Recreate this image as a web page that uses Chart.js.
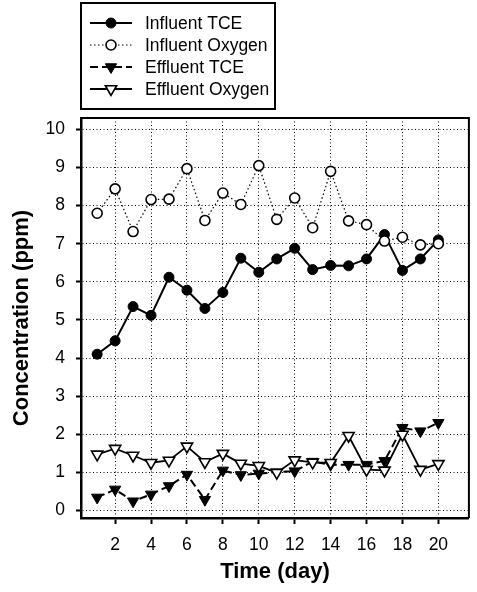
<!DOCTYPE html>
<html>
<head>
<meta charset="utf-8">
<title>Concentration vs Time</title>
<script src="https://cdn.jsdelivr.net/npm/chart.js@4.4.0/dist/chart.umd.min.js"></script>
<style>
    html, body { margin: 0; padding: 0; background: #fff; }
    #chart { display: block; }
</style>
</head>
<body>
<canvas id="chart" width="477" height="592"></canvas>
<script>
// Data
const days = [1, 2, 3, 4, 5, 6, 7, 8, 9, 10, 11, 12, 13, 14, 15, 16, 17, 18, 19, 20];
const influentTCE = [4.1, 4.45, 5.35, 5.12, 6.12, 5.78, 5.3, 5.72, 6.62, 6.25, 6.6, 6.88, 6.32, 6.43, 6.42, 6.6, 7.24, 6.3, 6.6, 7.1];
const influentOxygen = [7.8, 8.44, 7.32, 8.16, 8.17, 8.97, 7.61, 8.33, 8.03, 9.05, 7.64, 8.2, 7.42, 8.9, 7.6, 7.5, 7.07, 7.17, 6.97, 7.0];
const effluentTCE = [0.34, 0.55, 0.24, 0.42, 0.64, 0.94, 0.28, 1.05, 0.93, 0.97, 1.0, 1.03, 1.28, 1.2, 1.2, 1.2, 1.3, 2.17, 2.08, 2.3];
const effluentOxygen = [1.47, 1.62, 1.44, 1.25, 1.31, 1.68, 1.27, 1.49, 1.23, 1.17, 0.99, 1.32, 1.26, 1.25, 1.96, 1.07, 1.05, 1.99, 1.07, 1.22];
const xTicks = [2, 4, 6, 8, 10, 12, 14, 16, 18, 20];
const yTicks = [0, 1, 2, 3, 4, 5, 6, 7, 8, 9, 10];

const FONT = "'Liberation Sans', Arial, Helvetica, sans-serif";

function points(values) {
    return days.map((d, i) => ({ x: d, y: values[i] }));
}

const series = [
    {
        label: 'Influent TCE', data: points(influentTCE), order: 2,
        borderColor: '#000', borderWidth: 2, borderDash: [],
        pointStyle: 'circle', pointRadius: 5, pointRotation: 0,
        pointBackgroundColor: '#000', pointBorderColor: '#000', pointBorderWidth: 1
    },
    {
        label: 'Influent Oxygen', data: points(influentOxygen), order: 0,
        borderColor: '#000', borderWidth: 1.2, borderDash: [1.5, 2.5],
        pointStyle: 'circle', pointRadius: 5, pointRotation: 0,
        pointBackgroundColor: '#fff', pointBorderColor: '#000', pointBorderWidth: 1.6
    },
    {
        label: 'Effluent TCE', data: points(effluentTCE), order: 3,
        borderColor: '#000', borderWidth: 2, borderDash: [8, 4],
        pointStyle: 'triangle', pointRadius: 6.5, pointRotation: 180,
        pointBackgroundColor: '#000', pointBorderColor: '#000', pointBorderWidth: 1
    },
    {
        label: 'Effluent Oxygen', data: points(effluentOxygen), order: 1,
        borderColor: '#000', borderWidth: 1.8, borderDash: [],
        pointStyle: 'triangle', pointRadius: 6.5, pointRotation: 180,
        pointBackgroundColor: '#fff', pointBorderColor: '#000', pointBorderWidth: 1.6
    }
];

// Boxed legend at the top left, with line + marker samples
const boxLegend = {
    id: 'boxLegend',
    afterDraw(chart) {
        const ctx = chart.ctx;
        const rows = [23, 45, 67, 89];
        ctx.save();
        ctx.strokeStyle = '#000';
        ctx.lineWidth = 2;
        ctx.strokeRect(81, 3, 194, 106);
        ctx.font = '17.5px ' + FONT;
        ctx.textBaseline = 'middle';
        ctx.fillStyle = '#000';
        series.forEach((s, i) => {
            const y = rows[i];
            ctx.save();
            ctx.lineWidth = s.borderWidth;
            ctx.setLineDash(s.borderDash);
            ctx.beginPath();
            ctx.moveTo(90, y);
            ctx.lineTo(132, y);
            ctx.stroke();
            ctx.restore();
            ctx.save();
            ctx.fillStyle = s.pointBackgroundColor;
            ctx.strokeStyle = s.pointBorderColor;
            ctx.lineWidth = s.pointBorderWidth;
            Chart.helpers.drawPoint(ctx, {
                pointStyle: s.pointStyle, rotation: s.pointRotation,
                radius: s.pointRadius, borderWidth: s.pointBorderWidth
            }, 111, y);
            ctx.restore();
            ctx.fillText(s.label, 145, y + 1);
        });
        ctx.restore();
    }
};

// Top and right edges of the plot frame
const frame = {
    id: 'frame',
    afterDraw(chart) {
        const a = chart.chartArea;
        const ctx = chart.ctx;
        ctx.save();
        ctx.strokeStyle = '#000';
        ctx.lineWidth = 2;
        ctx.beginPath();
        ctx.moveTo(a.left, a.top);
        ctx.lineTo(a.right, a.top);
        ctx.lineTo(a.right, a.bottom);
        ctx.stroke();
        ctx.restore();
    }
};

new Chart(document.getElementById('chart'), {
    type: 'line',
    data: { datasets: series.map(s => Object.assign({ tension: 0, fill: false }, s)) },
    options: {
        responsive: false,
        animation: false,
        devicePixelRatio: 1,
        layout: { padding: { top: 118, right: 3, left: 0, bottom: 0 } },
        plugins: {
            legend: { display: false },
            tooltip: { enabled: false }
        },
        scales: {
            x: {
                type: 'linear',
                min: 0.1,
                max: 21.7,
                afterBuildTicks: axis => { axis.ticks = xTicks.map(v => ({ value: v })); },
                afterFit: axis => { axis.height = 74; },
                grid: {
                    color: '#000', lineWidth: 1, tickLength: 6,
                    tickColor: '#000', tickWidth: 2, tickBorderDash: []
                },
                border: { display: true, color: '#000', width: 2.5, dash: [1, 2.5] },
                ticks: {
                    color: '#000', padding: 11,
                    font: { family: FONT, size: 17.5 },
                    maxRotation: 0, autoSkip: false
                },
                title: {
                    display: true, text: 'Time (day)', color: '#000',
                    font: { family: FONT, size: 22, weight: 'bold' },
                    padding: { top: 0, bottom: 7 }
                }
            },
            y: {
                type: 'linear',
                min: -0.2,
                max: 10.3,
                afterBuildTicks: axis => { axis.ticks = yTicks.map(v => ({ value: v })); },
                afterFit: axis => { axis.width = 81; },
                grid: {
                    color: '#000', lineWidth: 1, tickLength: 5,
                    tickColor: '#000', tickWidth: 2, tickBorderDash: []
                },
                border: { display: true, color: '#000', width: 2.5, dash: [1, 2.5] },
                ticks: {
                    color: '#000', padding: 11,
                    font: { family: FONT, size: 17.5 }
                },
                title: {
                    display: true, text: 'Concentration (ppm)', color: '#000',
                    font: { family: FONT, size: 22, weight: 'bold' },
                    padding: { top: 9, bottom: 0 }
                }
            }
        }
    },
    plugins: [boxLegend, frame]
});
</script>
</body>
</html>
